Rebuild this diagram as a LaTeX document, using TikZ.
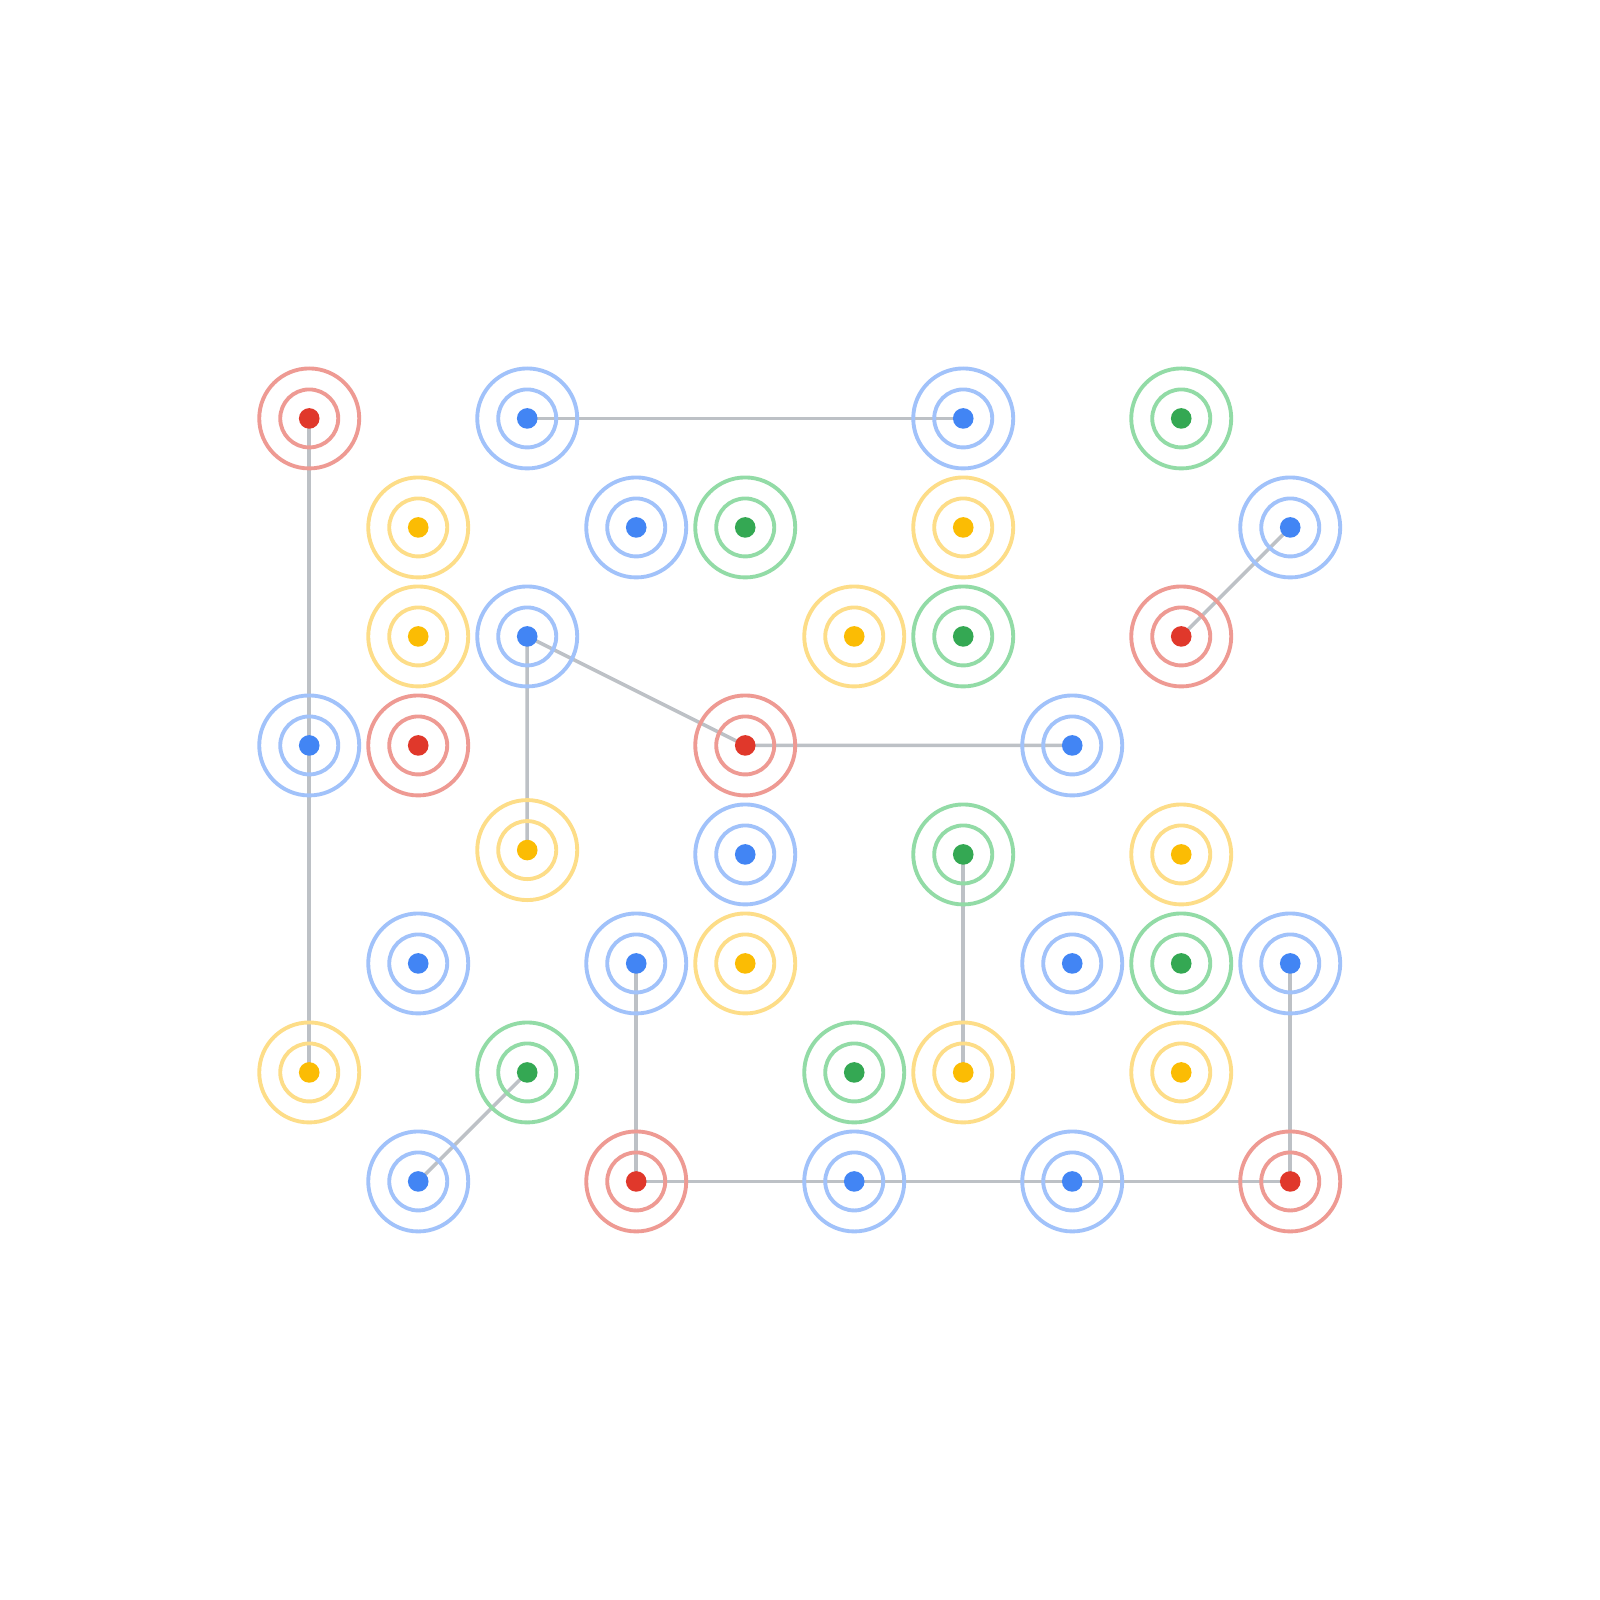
\documentclass[tikz,border=0pt]{standalone}
\usepackage{tikz}

\definecolor{dotred}{HTML}{E0382B}
\definecolor{dotblue}{HTML}{4285F4}
\definecolor{dotgreen}{HTML}{34A853}
\definecolor{dotyellow}{HTML}{FBBC04}
\definecolor{ringred}{HTML}{EE9A93}
\definecolor{ringblue}{HTML}{A1C2FA}
\definecolor{ringgreen}{HTML}{92DBA6}
\definecolor{ringyellow}{HTML}{FDDD88}
\definecolor{linkgray}{HTML}{BDC1C6}

\begin{document}
\begin{tikzpicture}[x=1.09cm,y=-1.09cm,
  link/.style={draw=linkgray,line width=1pt},
  ring/.style={line width=1.1pt}]
  \useasboundingbox (-2.837,-3.839) rectangle (11.842,10.840);
  \foreach \c/\r/\col in {0/0/red,2/0/blue,6/0/blue,8/0/green,
      1/1/yellow,3/1/blue,4/1/green,6/1/yellow,9/1/blue,
      1/2/yellow,2/2/blue,5/2/yellow,6/2/green,8/2/red,
      0/3/blue,1/3/red,4/3/red,7/3/blue,
      2/4/yellow,4/4/blue,6/4/green,8/4/yellow,
      1/5/blue,3/5/blue,4/5/yellow,7/5/blue,8/5/green,9/5/blue,
      0/6/yellow,2/6/green,5/6/green,6/6/yellow,8/6/yellow,
      1/7/blue,3/7/red,5/7/blue,7/7/blue,9/7/red}
    \coordinate (p\c-\r) at (\c,\r);
  \coordinate (p2-4) at (2,3.96);
  \draw[link] (p0-0) -- (p0-3) -- (p0-6);
  \draw[link] (p2-0) -- (p6-0);
  \draw[link] (p9-1) -- (p8-2);
  \draw[link] (p2-4) -- (p2-2) -- (p4-3) -- (p7-3);
  \draw[link] (p6-4) -- (p6-6);
  \draw[link] (p3-5) -- (p3-7) -- (p5-7) -- (p7-7) -- (p9-7);
  \draw[link] (p9-5) -- (p9-7);
  \draw[link] (p2-6) -- (p1-7);
  \foreach \c/\r/\col in {0/0/red,2/0/blue,6/0/blue,8/0/green,
      1/1/yellow,3/1/blue,4/1/green,6/1/yellow,9/1/blue,
      1/2/yellow,2/2/blue,5/2/yellow,6/2/green,8/2/red,
      0/3/blue,1/3/red,4/3/red,7/3/blue,
      2/4/yellow,4/4/blue,6/4/green,8/4/yellow,
      1/5/blue,3/5/blue,4/5/yellow,7/5/blue,8/5/green,9/5/blue,
      0/6/yellow,2/6/green,5/6/green,6/6/yellow,8/6/yellow,
      1/7/blue,3/7/red,5/7/blue,7/7/blue,9/7/red}
  {
    \draw[ring,draw=ring\col] (p\c-\r) circle (0.5cm) circle (0.29cm);
    \fill[dot\col] (p\c-\r) circle (0.103cm);
  }
\end{tikzpicture}
\end{document}
